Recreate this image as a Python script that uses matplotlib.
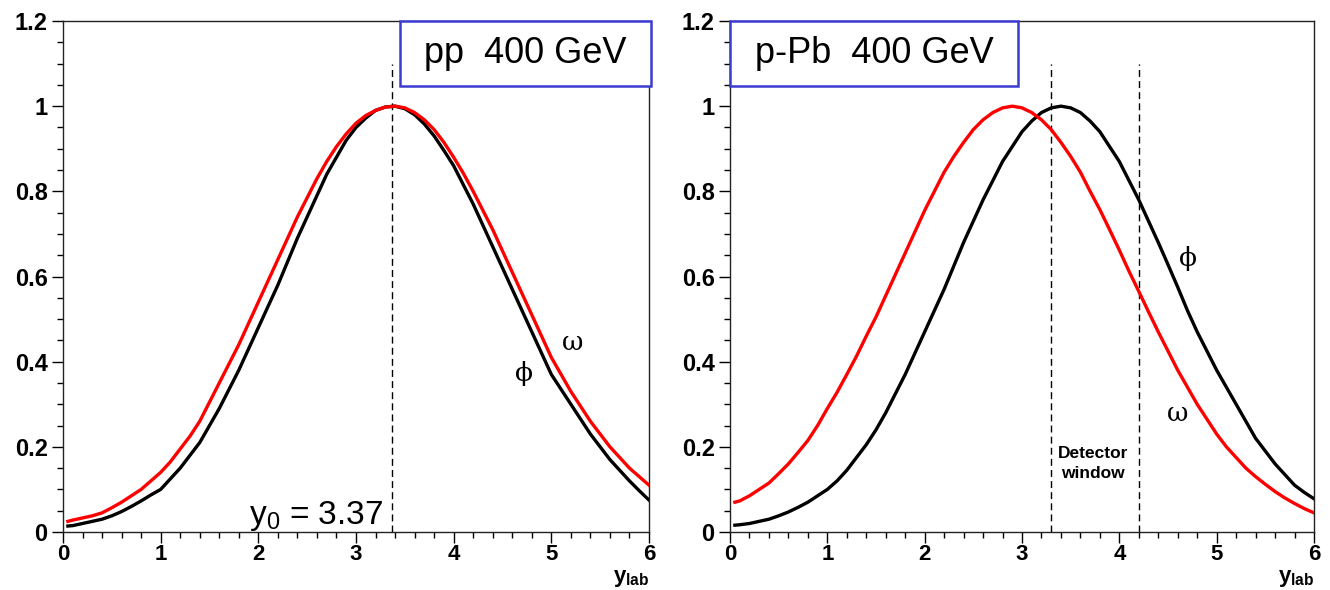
import matplotlib
matplotlib.use("Agg")
import matplotlib.pyplot as plt
from matplotlib.patches import Rectangle
from matplotlib.ticker import MultipleLocator

plt.rcParams['font.family'] = ['Liberation Sans', 'DejaVu Sans']
plt.rcParams['mathtext.fontset'] = 'custom'
plt.rcParams['mathtext.rm'] = 'Liberation Sans'
plt.rcParams['mathtext.bf'] = 'Liberation Sans:bold'

# rapidity grid (y_lab)
y_lab = [0.05, 0.1, 0.2, 0.3, 0.4, 0.5, 0.6, 0.7, 0.8, 0.9,
         1.0, 1.1, 1.2, 1.3, 1.4, 1.5, 1.6, 1.7, 1.8, 1.9,
         2.0, 2.1, 2.2, 2.3, 2.4, 2.5, 2.6, 2.7, 2.8, 2.9,
         3.0, 3.1, 3.2, 3.3, 3.4, 3.5, 3.6, 3.7, 3.8, 3.9,
         4.0, 4.1, 4.2, 4.3, 4.4, 4.5, 4.6, 4.7, 4.8, 4.9,
         5.0, 5.1, 5.2, 5.3, 5.4, 5.5, 5.6, 5.7, 5.8, 5.9,
         6.0]

# pp 400 GeV
pp_phi = [0.014, 0.015, 0.02, 0.025, 0.03, 0.038, 0.048, 0.06, 0.073, 0.087,
          0.10, 0.125, 0.15, 0.18, 0.21, 0.25, 0.29, 0.335, 0.38, 0.43,
          0.48, 0.53, 0.58, 0.635, 0.69, 0.74, 0.79, 0.84, 0.88, 0.92,
          0.95, 0.972, 0.99, 0.998, 1.0, 0.994, 0.98, 0.958, 0.93, 0.896,
          0.86, 0.815, 0.77, 0.72, 0.67, 0.62, 0.57, 0.52, 0.47, 0.42,
          0.37, 0.335, 0.30, 0.265, 0.23, 0.20, 0.17, 0.145, 0.12, 0.097,
          0.075]
pp_omega = [0.025, 0.028, 0.033, 0.038, 0.045, 0.057, 0.07, 0.085, 0.10, 0.12,
            0.14, 0.165, 0.195, 0.225, 0.26, 0.305, 0.35, 0.395, 0.44, 0.49,
            0.54, 0.59, 0.64, 0.69, 0.74, 0.785, 0.83, 0.87, 0.905, 0.935,
            0.96, 0.978, 0.99, 0.998, 1.0, 0.996, 0.985, 0.968, 0.945, 0.915,
            0.88, 0.842, 0.80, 0.755, 0.71, 0.66, 0.61, 0.56, 0.51, 0.46,
            0.41, 0.37, 0.33, 0.295, 0.26, 0.23, 0.20, 0.175, 0.15, 0.13,
            0.11]

# p-Pb 400 GeV
pPb_phi = [0.016, 0.017, 0.02, 0.025, 0.03, 0.038, 0.047, 0.058, 0.07, 0.085,
           0.10, 0.12, 0.145, 0.175, 0.205, 0.24, 0.28, 0.325, 0.37, 0.42,
           0.47, 0.52, 0.57, 0.625, 0.68, 0.73, 0.78, 0.825, 0.87, 0.905,
           0.94, 0.965, 0.985, 0.996, 1.0, 0.996, 0.985, 0.965, 0.94, 0.905,
           0.87, 0.825, 0.78, 0.73, 0.68, 0.628, 0.575, 0.52, 0.47, 0.425,
           0.38, 0.34, 0.30, 0.26, 0.22, 0.19, 0.16, 0.135, 0.11, 0.093,
           0.078]
pPb_omega = [0.07, 0.073, 0.085, 0.10, 0.115, 0.137, 0.16, 0.187, 0.215, 0.25,
             0.29, 0.328, 0.37, 0.413, 0.46, 0.505, 0.555, 0.605, 0.655, 0.705,
             0.755, 0.80, 0.845, 0.882, 0.915, 0.945, 0.968, 0.985, 0.996, 1.0,
             0.996, 0.985, 0.968, 0.945, 0.915, 0.882, 0.845, 0.80, 0.757, 0.71,
             0.662, 0.612, 0.565, 0.517, 0.47, 0.425, 0.38, 0.34, 0.30, 0.265,
             0.23, 0.20, 0.175, 0.15, 0.13, 0.112, 0.095, 0.08, 0.067, 0.055,
             0.045]

y0_pp = 3.37
window = [3.3, 4.2]

xticks = [0, 1, 2, 3, 4, 5, 6]
yticks = [0, 0.2, 0.4, 0.6, 0.8, 1.0, 1.2]
yticklabels = ['0', '0.2', '0.4', '0.6', '0.8', '1', '1.2']

fig = plt.figure(figsize=(13.3, 5.9), dpi=100, facecolor='w')
ax1 = fig.add_axes([63/1330, 58/590, 586/1330, 511/590])
ax2 = fig.add_axes([730/1330, 58/590, 584/1330, 511/590])

for ax in (ax1, ax2):
    ax.set_xlim(0, 6)
    ax.set_ylim(0, 1.2)
    ax.set_xticks(xticks)
    ax.set_xticklabels([str(t) for t in xticks])
    ax.set_yticks(yticks)
    ax.set_yticklabels(yticklabels)
    ax.xaxis.set_minor_locator(MultipleLocator(0.2))
    ax.yaxis.set_minor_locator(MultipleLocator(0.05))
    ax.tick_params(which='major', direction='out', length=8, width=1, labelsize=17, pad=3)
    ax.tick_params(axis='x', which='major', labelsize=16, pad=1)
    ax.tick_params(which='minor', direction='out', length=4, width=1)
    for lab in ax.get_xticklabels() + ax.get_yticklabels():
        lab.set_fontweight('bold')
    for sp in ax.spines.values():
        sp.set_linewidth(1)
        sp.set_color('#222222')

# axis titles sit under the "6" tick label, flush with the figure bottom
fig.text(649/1330, 0.002, r'$\mathbf{y}_{\mathbf{lab}}$', ha='right', va='bottom', fontsize=16)
fig.text(1314/1330, 0.002, r'$\mathbf{y}_{\mathbf{lab}}$', ha='right', va='bottom', fontsize=16)

# left panel
ax1.plot(y_lab, pp_phi, color='k', lw=2.4, zorder=3)
ax1.plot(y_lab, pp_omega, color='#ff0000', lw=2.4, zorder=4)
ax1.plot([y0_pp, y0_pp], [0, 1.1], color='k', lw=1, dashes=(5, 3))
ax1.text(3.28, 0.018, r'y$_0$ = 3.37', ha='right', va='baseline', fontsize=24)
ax1.text(5.22, 0.446, '\u03c9', ha='center', va='center', fontsize=19,
         family=['DejaVu Serif'])
ax1.text(4.72, 0.373, '\u03d5', ha='center', va='center', fontsize=19,
         family=['DejaVu Serif'])
ax1.add_patch(Rectangle((0.575, 0.873), 0.428, 0.127, transform=ax1.transAxes,
                        facecolor='w', edgecolor='#3b3bd0', lw=1.8, clip_on=False, zorder=6))
ax1.text(0.789, 0.937, 'pp  400 GeV', transform=ax1.transAxes, ha='center', va='center',
         fontsize=26, zorder=7)

# right panel
ax2.plot(y_lab, pPb_phi, color='k', lw=2.4, zorder=3)
ax2.plot(y_lab, pPb_omega, color='#ff0000', lw=2.4, zorder=4)
for w in window:
    ax2.plot([w, w], [0, 1.1], color='k', lw=1, dashes=(5, 3))
ax2.text(3.73, 0.16, 'Detector\nwindow', ha='center', va='center', fontsize=12.5,
         fontweight='bold', linespacing=1.4)
ax2.text(4.71, 0.643, '\u03d5', ha='center', va='center', fontsize=19,
         family=['DejaVu Serif'])
ax2.text(4.60, 0.279, '\u03c9', ha='center', va='center', fontsize=19,
         family=['DejaVu Serif'])
ax2.add_patch(Rectangle((0.0, 0.873), 0.493, 0.127, transform=ax2.transAxes,
                        facecolor='w', edgecolor='#3b3bd0', lw=1.8, clip_on=False, zorder=6))
ax2.text(0.2465, 0.937, 'p-Pb  400 GeV', transform=ax2.transAxes, ha='center', va='center',
         fontsize=26, zorder=7)

plt.savefig('out.png', dpi=100)
